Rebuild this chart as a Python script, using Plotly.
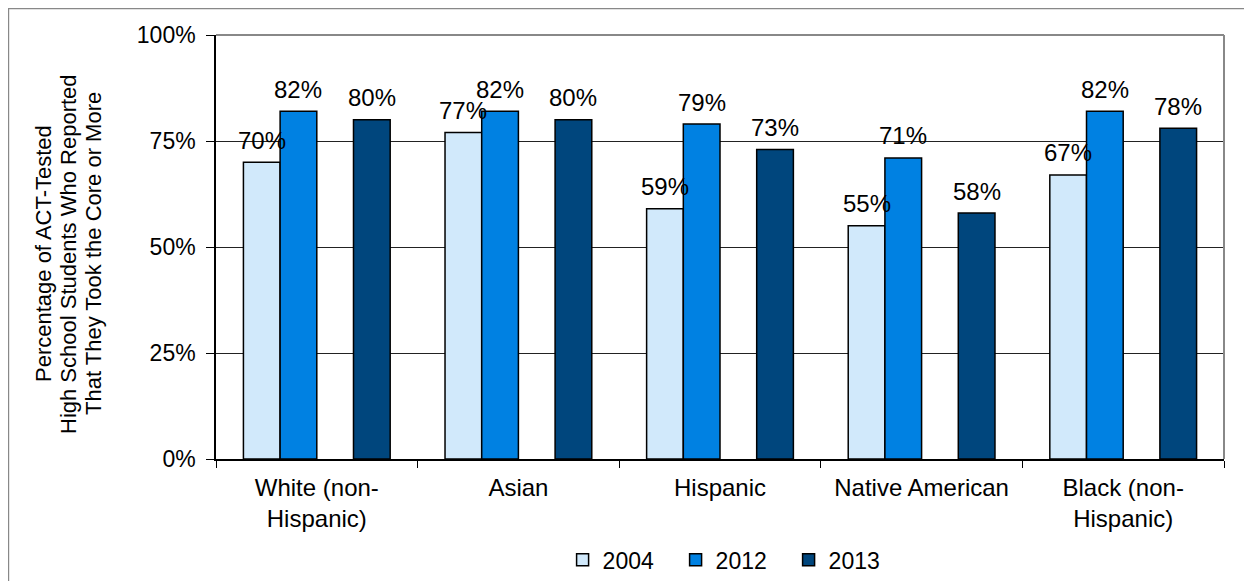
import plotly.graph_objects as go

categories = ["White (non-<br>Hispanic)", "Asian", "Hispanic", "Native American", "Black (non-<br>Hispanic)"]
series_names = ["2004", "2012", "2013"]
values_2004 = [70, 77, 59, 55, 67]
values_2012 = [82, 82, 79, 71, 82]
values_2013 = [80, 80, 73, 58, 78]
y_ticks = [0, 25, 50, 75, 100]
y_title_lines = ["Percentage of ACT-Tested",
                 "High School Students Who Reported",
                 "That They Took the Core or More"]

colors = ["#D1E9FB", "#0081E2", "#00467D"]
slots = [0, 1, 3]          # slot 2 is an empty series in the original
slot_w = 0.182
FONT = "Liberation Sans, Arial, sans-serif"

fig = go.Figure()
annotations = []
for name, vals, col, slot in zip(series_names, [values_2004, values_2012, values_2013], colors, slots):
    off = -2 * slot_w + slot * slot_w
    fig.add_trace(go.Bar(
        name=name, x=categories, y=vals,
        width=slot_w, offset=off,
        marker=dict(color=col, line=dict(color="#000000", width=1.5)),
        hoverinfo="skip",
    ))
    for i, v in enumerate(vals):
        annotations.append(dict(
            x=i + off + slot_w / 2, y=v, xref="x", yref="y",
            text=f"{v}%", showarrow=False, yanchor="middle", yshift=22,
            font=dict(size=24, color="#000000", family=FONT),
        ))

for k, line in enumerate(y_title_lines):
    annotations.append(dict(
        x=0, y=0.5, xref="paper", yref="paper", xanchor="center", yanchor="middle",
        xshift=-173 + 25 * k, yshift=-7, text=line, textangle=-90, showarrow=False,
        font=dict(size=22, color="#000000", family=FONT),
    ))

fig.update_layout(
    width=1244, height=573,
    margin=dict(l=208, r=28, t=27, b=122, autoexpand=False),
    paper_bgcolor="#FFFFFF", plot_bgcolor="#FFFFFF",
    barmode="overlay",
    font=dict(family=FONT, size=23, color="#000000"),
    showlegend=True,
    legend=dict(orientation="h", x=0.512, y=-0.238, xanchor="center", yanchor="middle",
                font=dict(size=23, family=FONT), entrywidth=68, entrywidthmode="pixels",
                traceorder="normal"),
    annotations=annotations,
    shapes=[
        dict(type="line", xref="paper", yref="paper", x0=0, x1=1, y0=1, y1=1,
             line=dict(color="#888888", width=2)),
        dict(type="line", xref="paper", yref="paper", x0=1, x1=1, y0=0, y1=1,
             line=dict(color="#888888", width=2)),
        dict(type="rect", xref="paper", yref="paper", x0=-0.2059, x1=1.06, y0=-0.35, y1=1.0625,
             line=dict(color="#888888", width=1.5)),
    ],
)

fig.update_xaxes(
    type="category", range=[-0.5, 4.5], automargin=False,
    showline=True, linecolor="#000000", linewidth=1.5,
    ticks="outside", ticklen=7, tickcolor="#000000", tickson="boundaries",
    showgrid=False, tickfont=dict(size=24, family=FONT),
    ticklabelstandoff=6,
)
fig.update_yaxes(
    range=[0, 100], tickvals=y_ticks, ticktext=[f"{t}%" for t in y_ticks],
    automargin=False,
    showline=True, linecolor="#000000", linewidth=1.5,
    ticks="outside", ticklen=8, tickcolor="#000000",
    showgrid=True, gridcolor="#222222", gridwidth=1,
    zeroline=False, tickfont=dict(size=23, family=FONT),
    ticklabelstandoff=6,
)

fig.write_html("out.html")
